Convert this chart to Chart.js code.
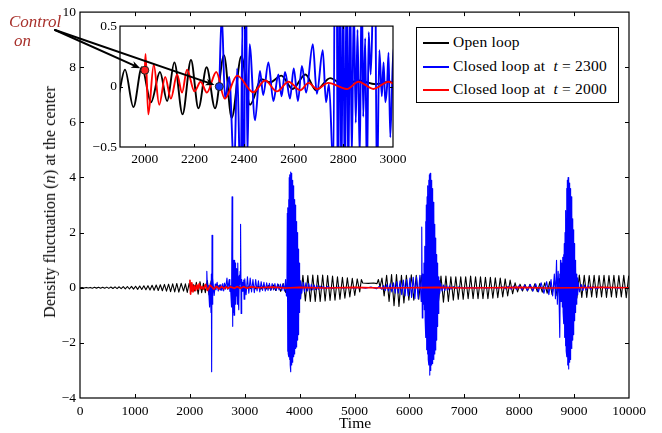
<!DOCTYPE html>
<html><head><meta charset="utf-8">
<script src="https://cdn.jsdelivr.net/npm/chart.js@4.4.1/dist/chart.umd.min.js"></script>
<style>
html,body{margin:0;padding:0;background:#fff;}
#wrap{position:relative;width:662px;height:433px;overflow:hidden;font-family:'Liberation Serif','Times New Roman',serif;color:#000;}
canvas{position:absolute;}
#main{left:0;top:0;}
#inset{left:85px;top:15px;}
#overlay{left:0;top:0;pointer-events:none;}
#legend{position:absolute;left:416px;top:27px;width:201px;height:74px;border:1px solid #000;background:#fff;}
.lrow{position:absolute;left:0;height:16px;width:200px;}
.lline{position:absolute;left:6px;top:8px;width:26px;height:1.6px;}
.ltext{position:absolute;left:36px;top:0;font-size:15.5px;line-height:16px;white-space:nowrap;letter-spacing:0.2px;}
#ytitle{position:absolute;left:50px;top:202px;transform:translate(-50%,-50%) rotate(-90deg);font-size:16px;white-space:nowrap;letter-spacing:0.1px;}
#xtitle{position:absolute;left:355px;top:423px;transform:translate(-50%,-50%);font-size:15.5px;}
.ctrl{position:absolute;color:#a8302b;font-style:italic;font-size:17px;line-height:1;}
</style></head>
<body>
<div id="wrap">
<canvas id="main" width="662" height="433"></canvas>
<canvas id="inset" width="335" height="150"></canvas>
<div id="legend">
 <div class="lrow" style="top:6px"><div class="lline" style="background:#000"></div><div class="ltext">Open loop</div></div>
 <div class="lrow" style="top:30px"><div class="lline" style="background:#0000ff"></div><div class="ltext">Closed loop at&nbsp; <i>t</i> = 2300</div></div>
 <div class="lrow" style="top:53px"><div class="lline" style="background:#ff0000"></div><div class="ltext">Closed loop at&nbsp; <i>t</i> = 2000</div></div>
</div>
<div id="ytitle">Density fluctuation (<i>n</i>) at the center</div>
<div id="xtitle">Time</div>
<div class="ctrl" style="left:9px;top:13px;">Control</div>
<div class="ctrl" style="left:14px;top:32px;">on</div>
<canvas id="overlay" width="662" height="433"></canvas>
</div>
<script>
// ---------------- data ----------------
const mainXTicks = [0,1000,2000,3000,4000,5000,6000,7000,8000,9000,10000];
const mainYTicks = [-4,-2,0,2,4,6,8,10];
const insetXTicks = [2000,2200,2400,2600,2800,3000];
const insetYTicks = [-0.5,0,0.5];
const controlTimes = [2000,2300];

const openLoop = [
[0,0],[38,0.01],[75,-0.01],[113,0.012],[150,-0.012],[188,0.012],[225,-0.015],[263,0.015],[300,-0.014],[338,0.018],[375,-0.018],[413,0.02],[450,-0.02],[488,0.022],[525,-0.022],[563,0.025],[600,-0.028],[638,0.03],[675,-0.03],[713,0.035],[750,-0.035],[788,0.04],[825,-0.04],[863,0.045],[900,-0.045],[938,0.05],[975,-0.05],[1013,0.055],[1050,-0.06],[1088,0.062],[1125,-0.065],[1163,0.07],[1200,-0.072],[1238,0.076],[1275,-0.08],[1313,0.088],[1350,-0.09],[1388,0.1],[1425,-0.1],[1463,0.11],[1500,-0.11],[1538,0.12],[1575,-0.125],[1613,0.13],[1650,-0.14],[1688,0.14],[1725,-0.15],[1763,0.155],[1800,-0.16],[1843,0.16],[1886,-0.12],[1920,0.14],[1954,-0.17],[1988,0.16],[2025,-0.13],[2061,0.12],[2090,-0.12],[2119,0.2],[2152,-0.23],[2186,0.22],[2216,-0.18],[2249,0.16],[2283,-0.18],[2319,0.26],[2350,-0.26],[2389,0.25],[2424,-0.15],[2470,0.06],[2505,0.035],[2550,0.09],[2595,-0.02],[2647,0.1],[2690,-0.03],[2747,0.07],[2800,0.015],[2861,0.05],[2930,0.02],[2989,0.04],
[3025,-0.02],[3070,0.05],[3115,-0.03],[3160,0.05],[3205,-0.04],[3250,0.06],[3295,-0.05],[3340,0.07],[3385,-0.06],[3430,0.08],[3475,-0.08],[3520,0.1],[3565,-0.1],[3610,0.12],[3655,-0.13],[3700,0.15],[3745,-0.17],[3790,0.2],[3835,-0.22],[3880,0.26],[3925,-0.3],[3970,0.35],[4015,-0.4],[4060,0.45],[4105,-0.48],[4150,0.44],[4195,-0.5],[4240,0.46],[4285,-0.5],[4330,0.45],[4375,-0.5],[4420,0.46],[4465,-0.48],[4510,0.44],[4555,-0.46],[4600,0.42],[4645,-0.45],[4690,0.4],[4735,-0.42],[4780,0.38],[4825,-0.38],[4870,0.36],[4915,-0.33],[4960,0.34],[5005,-0.28],[5050,0.32],[5095,-0.15],[5125,0.3],[5150,0.17],[5250,0.16],[5350,0.17],[5410,0.15],[5435,0.3],[5465,0.02],
[5500,0.35],[5540,-0.3],[5585,0.45],[5630,-0.5],[5675,0.48],[5720,-0.65],[5765,0.48],[5810,-0.68],[5855,0.45],[5900,-0.55],[5945,0.45],[5990,-0.45],[6035,0.47],[6080,-0.45],[6125,0.45],[6170,-0.42],[6215,0.45],[6260,-0.45],[6305,0.4],[6350,-0.45],[6395,0.4],[6440,-0.45],[6485,0.4],[6530,-0.5],[6575,0.42],[6620,-0.52],[6665,0.42],[6710,-0.5],[6755,0.4],[6800,-0.45],[6845,0.4],[6890,-0.42],[6935,0.4],[6980,-0.42],[7025,0.4],[7070,-0.4],[7115,0.42],[7160,-0.4],[7205,0.4],[7250,-0.4],[7295,0.4],[7340,-0.4],[7385,0.38],[7430,-0.4],[7475,0.38],[7520,-0.38],[7565,0.36],[7610,-0.36],[7655,0.35],[7700,-0.33],[7745,0.32],[7790,-0.3],[7835,0.28],[7880,-0.22],[7925,0.18],[7970,-0.15],[8015,0.13],[8060,-0.12],[8105,0.12],[8150,-0.12],[8195,0.12],[8240,-0.12],[8285,0.14],[8330,-0.14],[8375,0.15],[8420,-0.16],[8465,0.18],[8510,-0.2],[8555,0.22],[8600,-0.25],[8645,0.28],[8690,-0.3],[8735,0.33],[8780,-0.35],[8825,0.38],[8870,-0.38],[8915,0.4],[8960,-0.4],[9005,0.42],[9050,-0.38],[9095,0.46],[9140,-0.35],[9185,0.45],[9230,-0.35],[9275,0.44],[9320,-0.33],[9365,0.45],[9410,-0.35],[9455,0.44],[9500,-0.33],[9545,0.45],[9590,-0.35],[9635,0.44],[9680,-0.33],[9725,0.45],[9770,-0.35],[9815,0.44],[9860,-0.33],[9905,0.45],[9950,-0.36],[9995,0.44]
];

const closedLoop2300 = [
[2300,0.0],[2310,0.6],[2323,-0.1],[2340,0.08],[2360,-0.7],[2372,0.15],[2386,-0.9],[2393,0.5],[2398,-3.05],[2405,1.9],[2413,-0.6],[2422,0.35],[2444,-0.28],[2464,0.13],[2477,-0.07],[2498,0.2],[2518,-0.12],[2538,0.1],[2551,-0.08],[2565,0.12],[2585,-0.1],[2600,0.15],[2617,-0.12],[2633,0.17],[2650,-0.05],[2677,0.35],[2693,-0.06],[2717,0.3],[2730,-0.13],[2742,0.02],[2760,-0.7],
[2770,3.3],[2778,-1.4],[2785,1.2],[2792,-0.9],[2799,1.0],[2806,-1.0],[2813,1.0],[2820,-0.8],[2827,0.9],[2834,-0.6],[2842,0.7],[2850,-0.3],[2857,0.47],[2866,-0.6],[2874,0.9],[2880,-0.25],[2888,0.4],[2895,-0.8],[2902,0.45],[2910,0.1],[2917,0.6],[2925,2.3],[2935,-0.93],[2945,0.3],[2955,-0.08],[2962,0.2],[2969,-0.13],[2976,0.0],[2982,0.28],[2989,-0.42],[3002,0.32],
[3025,-0.25],[3050,0.4],[3075,-0.2],[3100,0.35],[3125,-0.15],[3150,0.3],[3175,-0.18],[3200,0.3],[3225,-0.12],[3250,0.25],[3275,-0.15],[3300,0.22],[3325,-0.1],[3350,0.2],[3375,-0.12],[3400,0.18],[3425,-0.1],[3450,0.16],[3475,-0.1],[3500,0.15],[3525,-0.08],[3550,0.15],[3575,-0.1],[3600,0.14],[3625,-0.08],[3650,0.13],[3675,-0.1],[3700,0.14],[3725,-0.12],[3745,0.3],[3760,-0.3],[3770,0.4],
[3776,2.7],[3781,-2.3],[3787,2.9],[3793,-2.4],[3799,3.2],[3805,-2.5],[3811,4.0],[3817,-2.6],[3823,4.1],[3829,-2.8],[3835,4.2],[3841,-3.05],[3847,4.15],[3853,-2.8],[3859,4.0],[3865,-2.7],[3871,3.9],[3877,-2.6],[3883,3.7],[3889,-2.5],[3895,3.5],[3901,-2.4],[3907,3.2],[3913,-2.3],[3919,3.0],[3925,-2.2],[3931,2.7],[3937,-2.15],[3943,2.4],[3949,-2.0],[3955,2.0],[3961,-1.9],[3967,1.7],[3973,-1.7],[3979,1.4],[3985,-1.3],[3991,0.9],[3997,-0.9],[4003,0.5],[4009,-0.4],[4020,0.25],
[4040,-0.2],[4065,0.2],[4090,-0.15],[4115,0.18],[4140,-0.12],[4165,0.15],[4190,-0.1],[4215,0.12],[4240,-0.08],[4265,0.1],[4290,-0.07],[4315,0.08],[4340,-0.06],[4370,0.06],[4400,-0.05],[4430,0.05],[4460,-0.04],[4500,0.04],[4600,-0.03],[4700,0.03],[4800,-0.02],[4900,0.02],[5000,-0.02],[5100,0.02],[5200,-0.02],[5300,0.03],[5400,-0.04],[5450,0.05],
[5500,-0.06],[5530,0.08],[5560,-0.1],[5590,0.12],[5620,-0.12],[5650,0.15],[5680,-0.15],[5710,0.18],[5740,-0.2],[5770,0.22],[5800,-0.2],[5830,0.25],[5860,-0.25],[5890,0.28],[5920,-0.3],[5950,0.3],[5980,-0.3],[6010,0.35],[6040,-0.35],[6070,0.38],[6100,-0.4],[6130,0.4],[6160,-0.4],[6190,0.45],[6215,-0.5],[6225,2.2],[6235,-1.1],[6245,0.5],[6255,-0.6],[6265,0.9],[6272,-0.8],
[6280,1.5],[6287,-1.2],[6294,2.4],[6301,-1.8],[6308,3.0],[6315,-2.25],[6322,3.3],[6329,-2.4],[6336,3.7],[6343,-2.6],[6350,3.9],[6357,-2.8],[6364,4.1],[6371,-3.17],[6378,4.15],[6385,-3.0],[6392,4.0],[6399,-2.8],[6406,3.9],[6413,-2.75],[6420,3.6],[6427,-2.7],[6434,3.1],[6441,-2.6],[6448,2.8],[6455,-2.4],[6462,2.3],[6469,-2.26],[6476,1.8],[6483,-2.1],[6490,1.2],[6497,-1.9],[6504,0.9],[6511,-1.4],[6518,0.6],[6525,-0.93],[6532,0.4],[6539,-0.5],[6546,0.25],[6553,-0.2],
[6570,0.15],[6595,-0.12],[6620,0.1],[6645,-0.1],[6670,0.08],[6700,-0.08],[6730,0.06],[6760,-0.05],[6800,0.04],[6850,-0.03],[6900,0.03],[7000,-0.02],[7100,0.02],[7200,-0.02],[7300,0.02],[7400,-0.02],[7500,0.02],[7600,-0.02],[7700,0.03],[7750,-0.04],[7800,0.05],[7850,-0.05],[7900,0.06],[7950,-0.06],[8000,0.08],[8050,-0.08],[8100,0.1],[8150,-0.1],[8200,0.12],[8250,-0.12],[8300,0.14],[8350,-0.15],[8400,0.18],[8450,-0.2],[8500,0.22],[8540,-0.25],[8580,0.3],[8610,-0.3],[8640,0.5],[8660,-0.4],[8680,1.0],[8695,-0.6],[8710,0.6],[8725,-0.3],[8735,0.5],[8743,-1.8],[8752,1.0],[8760,-0.5],
[8765,0.6],[8772,-0.5],[8779,0.9],[8786,-0.7],[8793,1.1],[8800,-0.9],[8807,1.2],[8814,-1.3],[8821,1.6],[8828,-1.8],[8835,2.0],[8842,-2.1],[8849,2.8],[8856,-2.3],[8863,3.6],[8870,-2.5],[8877,3.9],[8884,-2.8],[8891,4.0],[8898,-2.95],[8905,3.95],[8912,-2.7],[8919,3.8],[8926,-2.6],[8933,3.6],[8940,-2.4],[8947,3.3],[8954,-2.2],[8961,2.9],[8968,-1.9],[8975,2.5],[8982,-1.7],[8989,2.1],[8996,-1.5],[9003,1.6],[9010,-1.2],[9017,1.0],[9024,-0.9],[9031,0.8],[9038,-0.6],[9045,0.5],[9052,-0.4],[9059,0.35],[9066,-0.25],[9075,0.2],
[9100,-0.15],[9130,0.12],[9160,-0.1],[9190,0.1],[9220,-0.08],[9260,0.07],[9300,-0.06],[9350,0.05],[9400,-0.04],[9500,0.03],[9600,-0.03],[9700,0.02],[9800,-0.02],[9900,0.02],[10000,0]
];

const closedLoop2000 = [
[2000,0.135],[2003,0.27],[2014,-0.23],[2036,0.18],[2058,-0.15],[2082,0.08],[2105,-0.1],[2130,0.1],[2150,-0.05],[2170,0.14],[2200,-0.04],[2225,0.04],[2250,-0.05],[2288,0.12],[2322,-0.1],[2372,0.09],[2437,-0.047],[2485,0.05],[2532,-0.04],[2579,0.04],[2626,-0.03],[2660,0.03],[2693,-0.02],[2739,0.03],[2814,-0.02],[2861,0.04],[2921,-0.02],[2982,0.04],[3040,-0.02],[3100,0.03],[3250,0.0],[3500,0.02],[3750,-0.01],[4000,0.01],[4500,-0.01],[5000,0.01],[5500,-0.01],[6000,0.0],[6500,0.01],[7000,-0.01],[7500,0.0],[8000,0.01],[8500,-0.01],[9000,0.0],[9500,0.01],[10000,0.0]
];

// ---------------- helpers ----------------
const FONT = "'Liberation Serif','Times New Roman',serif";
const toXY = arr => arr.map(p => ({x: p[0], y: p[1]}));
const fmt = v => (v < 0 ? '\u2212' + String(Math.abs(v)) : String(v));
const startValue = (series, t) => { const p = series.find(q => q[0] === t); return p ? p[1] : 0; };

function framePlugin(tickLen, xTicks, yTicks) {
  return {
    id: 'frame',
    beforeDraw(chart) {
      const {ctx, chartArea: ca} = chart;
      ctx.save(); ctx.fillStyle = '#fff';
      ctx.fillRect(ca.left, ca.top, ca.right - ca.left, ca.bottom - ca.top);
      ctx.restore();
    },
    afterDatasetsDraw(chart) {
      const {ctx, chartArea: ca, scales} = chart;
      ctx.save();
      ctx.strokeStyle = '#000'; ctx.lineWidth = 1.2;
      ctx.strokeRect(ca.left, ca.top, ca.right - ca.left, ca.bottom - ca.top);
      ctx.lineWidth = 1;
      ctx.beginPath();
      xTicks.forEach(v => {
        const px = Math.round(scales.x.getPixelForValue(v)) + 0.5;
        if (px < ca.left + 2 || px > ca.right - 2) return;
        ctx.moveTo(px, ca.bottom); ctx.lineTo(px, ca.bottom - tickLen);
        ctx.moveTo(px, ca.top); ctx.lineTo(px, ca.top + tickLen);
      });
      yTicks.forEach(v => {
        const py = Math.round(scales.y.getPixelForValue(v)) + 0.5;
        if (py < ca.top + 2 || py > ca.bottom - 2) return;
        ctx.moveTo(ca.left, py); ctx.lineTo(ca.left + tickLen, py);
        ctx.moveTo(ca.right, py); ctx.lineTo(ca.right - tickLen, py);
      });
      ctx.stroke();
      ctx.restore();
    }
  };
}

function seriesDatasets(widths, smooth) {
  const common = {pointRadius: 0, pointHoverRadius: 0, fill: false, clip: 0, borderJoinStyle: 'round'};
  if (smooth) { common.cubicInterpolationMode = 'monotone'; common.tension = 0.4; } else { common.tension = 0; }
  return [
    Object.assign({label: 'Open loop', data: toXY(openLoop), borderColor: '#000000', borderWidth: widths[0], order: 3}, common),
    Object.assign({label: 'Closed loop at t = 2300', data: toXY(closedLoop2300), borderColor: '#0000ff', borderWidth: widths[1], order: 2}, common),
    Object.assign({label: 'Closed loop at t = 2000', data: toXY(closedLoop2000), borderColor: '#ff0000', borderWidth: widths[2], order: 1}, common)
  ];
}

Chart.defaults.font.family = FONT;
Chart.defaults.color = '#000';

// ---------------- main chart ----------------
const mainChart = new Chart(document.getElementById('main'), {
  type: 'line',
  data: {datasets: seriesDatasets([1.1, 1.1, 1.7], false)},
  options: {
    responsive: false, animation: false, devicePixelRatio: 1,
    parsing: false, normalized: true,
    layout: {padding: {left: 0, right: 33, top: 12, bottom: 0}},
    plugins: {legend: {display: false}, tooltip: {enabled: false}},
    events: [],
    scales: {
      x: {type: 'linear', min: 0, max: 10000,
          grid: {display: false, drawTicks: false}, border: {display: false},
          afterBuildTicks: s => { s.ticks = mainXTicks.map(v => ({value: v})); },
          afterFit: s => { s.height = 35; },
          ticks: {font: {size: 13.5}, padding: 5, maxRotation: 0, autoSkip: false, callback: v => fmt(v)}},
      y: {type: 'linear', min: -4, max: 10,
          grid: {display: false, drawTicks: false}, border: {display: false},
          afterBuildTicks: s => { s.ticks = mainYTicks.map(v => ({value: v})); },
          afterFit: s => { s.width = 80; },
          ticks: {font: {size: 13.5}, padding: 4, autoSkip: false, callback: v => fmt(v)}}
    }
  },
  plugins: [framePlugin(4, mainXTicks, mainYTicks)]
});

// ---------------- inset chart ----------------
const insetSets = seriesDatasets([1.9, 1.9, 1.9], true);
insetSets.push({
  type: 'scatter', label: 'control', order: 0,
  data: controlTimes.map((t, i) => ({x: t, y: startValue(i === 0 ? closedLoop2000 : closedLoop2300, t)})),
  pointRadius: 4, pointBorderWidth: 1, pointBorderColor: '#222',
  pointBackgroundColor: ['#ff2020', '#1030ff'], showLine: false
});
const insetChart = new Chart(document.getElementById('inset'), {
  type: 'line',
  data: {datasets: insetSets},
  options: {
    responsive: false, animation: false, devicePixelRatio: 1,
    parsing: false,
    layout: {padding: {left: 0, right: 27, top: 10, bottom: 0}},
    plugins: {legend: {display: false}, tooltip: {enabled: false}},
    events: [],
    scales: {
      x: {type: 'linear', min: 1900, max: 3000,
          grid: {display: false, drawTicks: false}, border: {display: false},
          afterBuildTicks: s => { s.ticks = insetXTicks.map(v => ({value: v})); },
          afterFit: s => { s.height = 18; },
          ticks: {font: {size: 13.5}, padding: 4, maxRotation: 0, autoSkip: false, callback: v => fmt(v)}},
      y: {type: 'linear', min: -0.5, max: 0.5,
          grid: {display: false, drawTicks: false}, border: {display: false},
          afterBuildTicks: s => { s.ticks = insetYTicks.map(v => ({value: v})); },
          afterFit: s => { s.width = 35; },
          ticks: {font: {size: 13.5}, padding: 3, autoSkip: false, callback: v => fmt(v)}}
    }
  },
  plugins: [framePlugin(3, insetXTicks, insetYTicks)]
});

// ---------------- annotation arrows ----------------
(function drawArrows() {
  const cv = document.getElementById('overlay');
  const ctx = cv.getContext('2d');
  const insetEl = document.getElementById('inset');
  const ox = insetEl.offsetLeft, oy = insetEl.offsetTop;
  const start = {x: 55, y: 30};
  const targets = controlTimes.map((t, i) => ({
    x: ox + insetChart.scales.x.getPixelForValue(t),
    y: oy + insetChart.scales.y.getPixelForValue(startValue(i === 0 ? closedLoop2000 : closedLoop2300, t))
  }));
  ctx.strokeStyle = '#000'; ctx.fillStyle = '#000'; ctx.lineWidth = 2; ctx.lineCap = 'round';
  targets.forEach(tg => {
    const dx = tg.x - start.x, dy = tg.y - start.y, L = Math.hypot(dx, dy);
    const ux = dx / L, uy = dy / L;
    const tip = {x: tg.x - ux * 5, y: tg.y - uy * 5};
    const base = {x: tip.x - ux * 9, y: tip.y - uy * 9};
    ctx.beginPath(); ctx.moveTo(start.x, start.y); ctx.lineTo(base.x + ux * 2, base.y + uy * 2); ctx.stroke();
    ctx.beginPath();
    ctx.moveTo(tip.x, tip.y);
    ctx.lineTo(base.x - uy * 3.5, base.y + ux * 3.5);
    ctx.lineTo(base.x + ux * 2.5, base.y + uy * 2.5);
    ctx.lineTo(base.x + uy * 3.5, base.y - ux * 3.5);
    ctx.closePath(); ctx.fill();
  });
})();
</script>
</body></html>
